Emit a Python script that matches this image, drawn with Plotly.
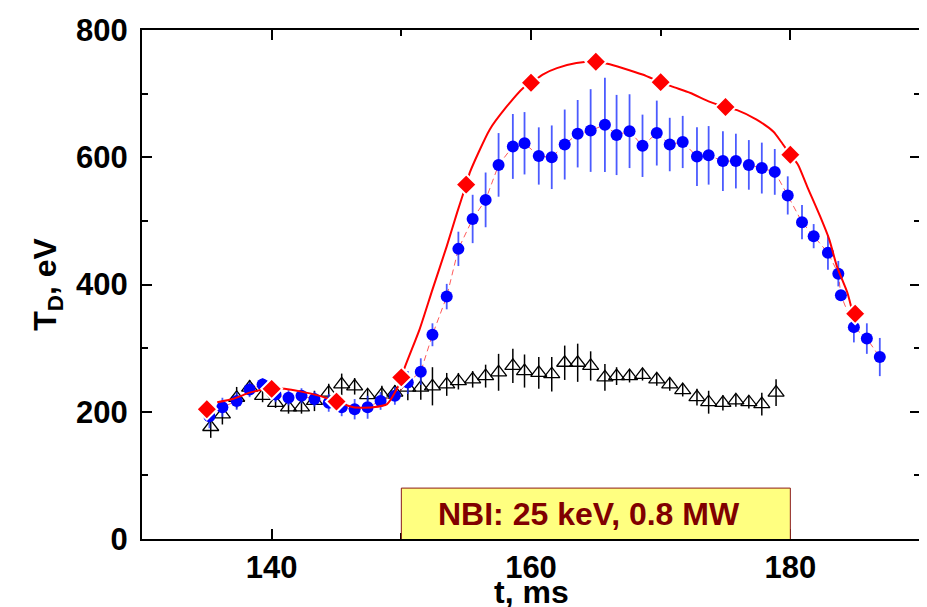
import plotly.graph_objects as go

# ---------------- data ----------------
# Blue circles (T_D measured), with error bars
blue_t = [135.2, 136.2, 137.3, 138.3, 139.3, 140.3, 141.3, 142.3, 143.3, 144.4,
          145.4, 146.4, 147.4, 148.4, 149.5, 150.5, 151.5, 152.4, 153.5, 154.4,
          155.5, 156.5, 157.5, 158.6, 159.5, 160.6, 161.6, 162.6, 163.6, 164.6,
          165.7, 166.6, 167.6, 168.6, 169.7, 170.7, 171.7, 172.8, 173.7, 174.8,
          175.8, 176.8, 177.8, 178.8, 179.8, 180.9, 181.8, 182.9, 183.7, 183.9,
          184.9, 185.9, 186.9]
blue_T = [193, 207, 217, 235, 243, 227, 222, 225, 220, 214,
          207, 204, 207, 217, 225, 246, 263, 321, 381, 456,
          503, 533, 588, 617, 622, 602, 600, 620, 637, 642,
          651, 635, 641, 618, 638, 620, 624, 601, 603, 594,
          594, 588, 583, 577, 540, 498, 476, 450, 417, 383,
          333, 315, 286]
blue_err = [19, 15, 14, 12, 10, 12, 12, 12, 12, 14,
            14, 16, 18, 14, 14, 18, 21, 18, 20, 27,
            38, 43, 50, 51, 49, 45, 50, 55, 53, 65,
            74, 63, 58, 49, 51, 42, 41, 46, 46, 47,
            43, 39, 40, 36, 30, 27, 19, 27, 20, 8,
            24, 24, 30]

# Open triangles (reference shot), with error bars
tri_t = [135.3, 136.2, 137.3, 138.3, 139.3, 140.3, 141.3, 142.3, 143.3, 144.4,
         145.4, 146.4, 147.4, 148.5, 149.5, 150.5, 151.5, 152.4, 153.5, 154.4,
         155.5, 156.5, 157.5, 158.6, 159.5, 160.6, 161.6, 162.6, 163.6, 164.6,
         165.7, 166.6, 167.6, 168.6, 169.7, 170.7, 171.7, 172.8, 173.7, 174.8,
         175.8, 176.8, 177.8, 178.9]
tri_T = [176, 196, 222, 238, 225, 214, 207, 207, 217, 230,
         243, 240, 226, 227, 230, 238, 238, 240, 243, 248,
         251, 256, 262, 272, 264, 261, 259, 277, 277, 272,
         254, 256, 256, 258, 251, 243, 234, 223, 215, 214,
         218, 215, 212, 230]
tri_err = [17, 16, 17, 12, 10, 8, 10, 10, 16, 14,
           17, 13, 10, 14, 12, 20, 19, 30, 18, 13,
           13, 18, 29, 27, 26, 25, 27, 27, 30, 23,
           21, 14, 10, 9, 10, 10, 10, 13, 18, 12,
           10, 10, 18, 21]

# Red diamonds
red_t = [135, 140, 145, 150, 155, 160, 165, 170, 175, 180, 185]
red_T = [204, 236, 216, 254, 557, 717, 750, 718, 679, 604, 354]

# Red smooth curve
curve_t = [135.8, 137.0, 138.3, 139.3, 140.0, 141.0, 142.2, 143.7, 145.0, 146.3,
           147.8, 148.9, 150.0, 150.2, 151.4, 152.4, 153.5, 154.3, 155.0, 155.3,
           156.8, 158.1, 159.4, 160.0, 160.9, 162.0, 163.5, 165.0, 165.9, 167.1,
           168.6, 170.0, 170.9, 172.3, 173.8, 175.0, 175.9, 177.4, 178.7, 179.3,
           180.0, 180.6, 181.3, 182.3, 183.0, 183.6, 184.4, 184.8]
curve_T = [215, 220, 230, 235, 237, 236, 232, 225, 216, 207,
           207, 212, 250, 266, 329, 392, 460, 513, 557, 577,
           643, 679, 709, 717, 730, 740, 748, 750, 747, 740,
           730, 718, 711, 701, 687, 679, 674, 659, 640, 624,
           604, 588, 554, 507, 471, 428, 387, 356]

x_ticks = [140, 160, 180]
y_ticks = [0, 200, 400, 600, 800]
x_title = "t, ms"
y_title = "T<sub>D</sub>, eV"
nbi_label = "NBI: 25 keV, 0.8 MW"
nbi_t = [150, 180]
nbi_T = 80

FONT = "Liberation Sans, Arial, sans-serif"

fig = go.Figure()

# triangles
fig.add_trace(go.Scatter(
    x=tri_t, y=tri_T, mode="markers",
    marker=dict(symbol="triangle-up-open", size=14, color="black",
                line=dict(width=1.3, color="black")),
    error_y=dict(type="data", array=tri_err, color="black", thickness=1.5, width=0),
    showlegend=False))

# blue dashed connector
fig.add_trace(go.Scatter(
    x=blue_t, y=blue_T, mode="lines",
    line=dict(color="#ff5a5a", width=1, dash="6px,4px"),
    showlegend=False, hoverinfo="skip"))

# blue circles
fig.add_trace(go.Scatter(
    x=blue_t, y=blue_T, mode="markers",
    marker=dict(symbol="circle", size=12, color="#0000ff"),
    error_y=dict(type="data", array=blue_err, color="rgba(30,50,255,0.8)",
                 thickness=1.8, width=0),
    showlegend=False))

# red curve
fig.add_trace(go.Scatter(
    x=curve_t, y=curve_T, mode="lines",
    line=dict(color="#ff0000", width=2, shape="spline", smoothing=0.6),
    showlegend=False))

# red diamonds
fig.add_trace(go.Scatter(
    x=red_t, y=red_T, mode="markers",
    marker=dict(symbol="diamond", size=16, color="#ff0000",
                line=dict(width=2, color="white")),
    showlegend=False))

# NBI box
fig.add_shape(type="rect", xref="x", yref="y",
              x0=nbi_t[0], x1=nbi_t[1], y0=-3, y1=nbi_T,
              fillcolor="#ffff80", line=dict(width=0), layer="above")
fig.add_shape(type="path", xref="x", yref="y",
              path=f"M{nbi_t[0]},-3 L{nbi_t[0]},{nbi_T} L{nbi_t[1]},{nbi_T} L{nbi_t[1]},-3",
              line=dict(color="#8b1a1a", width=1), layer="above")
fig.add_annotation(x=sum(nbi_t) / 2 - 0.5, y=nbi_T / 2, xref="x", yref="y",
                   text=nbi_label, showarrow=False,
                   font=dict(family=FONT, size=32, color="#800000", weight="bold"))

# x-axis title (placed as annotation to sit just under tick labels)
fig.add_annotation(x=0.5, y=0, xref="paper", yref="paper",
                   xanchor="center", yanchor="top", yshift=-33,
                   text=x_title, showarrow=False,
                   font=dict(family=FONT, size=32, color="black", weight="bold"))

axis_common = dict(
    showline=True, linecolor="black", linewidth=2, mirror="allticks",
    ticks="inside", ticklen=10, tickwidth=2, tickcolor="black",
    showgrid=False, zeroline=False, automargin=False,
    tickfont=dict(family=FONT, size=31, color="black", weight="bold"),
)

fig.update_xaxes(
    range=[130, 190], tickvals=x_ticks,
    minor=dict(ticks="inside", ticklen=6, tickwidth=2, dtick=10, tick0=130,
               tickcolor="black", showgrid=False),
    **axis_common)
fig.update_yaxes(
    range=[0, 800], tickvals=y_ticks, ticklabelstandoff=6,
    minor=dict(ticks="inside", ticklen=6, tickwidth=2, dtick=100, tick0=0,
               tickcolor="black", showgrid=False),
    title=dict(text=y_title, standoff=10,
               font=dict(family=FONT, size=32, color="black", weight="bold")),
    **axis_common)

# page body adds an 8px margin around the figure; compensate
fig.update_layout(
    width=919, height=599,
    margin=dict(l=134, r=7, t=22, b=68),
    paper_bgcolor="white", plot_bgcolor="white",
    showlegend=False,
)

fig.write_html("out.html")
